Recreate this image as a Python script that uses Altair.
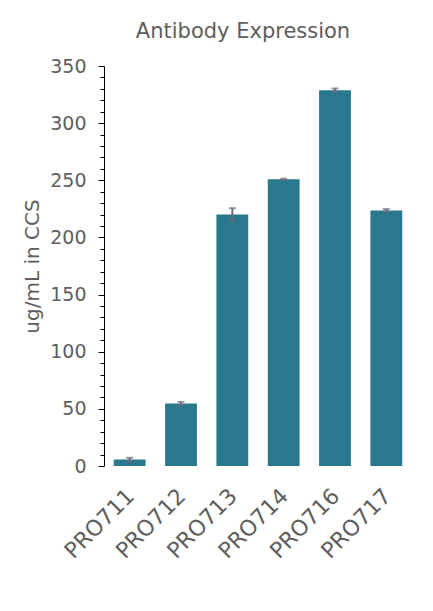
import altair as alt
import pandas as pd

# values
samples = ["PRO711", "PRO712", "PRO713", "PRO714", "PRO716", "PRO717"]
means = [5.6, 54.6, 220.0, 250.8, 328.7, 223.6]
errors = [1.6, 1.5, 5.6, 0.6, 1.6, 1.2]
y_ticks = list(range(0, 351, 10))

df = pd.DataFrame({"sample": samples, "mean": means, "err": errors})

FONT = "DejaVu Sans"
GREY = "#5e5e5e"

base = alt.Chart(df).encode(
    x=alt.X("sample:N", sort=samples, title=None,
            scale=alt.Scale(paddingInner=0.38, paddingOuter=0.19),
            axis=alt.Axis(labelAngle=-45, domain=False, ticks=False,
                          labelPadding=19, labelOffset=-6, labelFontSize=22,
                          labelColor=GREY, labelFont=FONT)),
    y=alt.Y("mean:Q", title="ug/mL in CCS",
            scale=alt.Scale(domain=[0, 350], nice=False),
            axis=alt.Axis(values=y_ticks, grid=False,
                          labelExpr="datum.value % 50 === 0 ? datum.label : ''",
                          tickSize={"condition": {"test": "datum.value % 50 === 0", "value": 6}, "value": 4},
                          domainColor="black", tickColor="black",
                          labelPadding=12, labelFontSize=19, labelColor=GREY, labelFont=FONT,
                          titleFontSize=20, titleFontWeight="normal", titleColor=GREY,
                          titleFont=FONT, titlePadding=7)),
)

bars = base.mark_bar(color="#2a788e")

errs = base.mark_errorbar(ticks=True, size=7, thickness=2, color="#6b6b78").encode(
    yError="err:Q",
)

chart = alt.layer(bars, errs).properties(
    width=308,
    height=400,
    autosize=alt.AutoSizeParams(type="none"),
    padding={"left": 96, "top": 58, "right": 13, "bottom": 137},
    title=alt.TitleParams("Antibody Expression", fontSize=21, fontWeight="normal",
                          color=GREY, font=FONT, anchor="middle", frame="group",
                          baseline="alphabetic", offset=7, dx=-15, dy=9),
).configure_view(stroke=None)

chart.save("out.html", embed_options={"renderer": "svg", "actions": False})
